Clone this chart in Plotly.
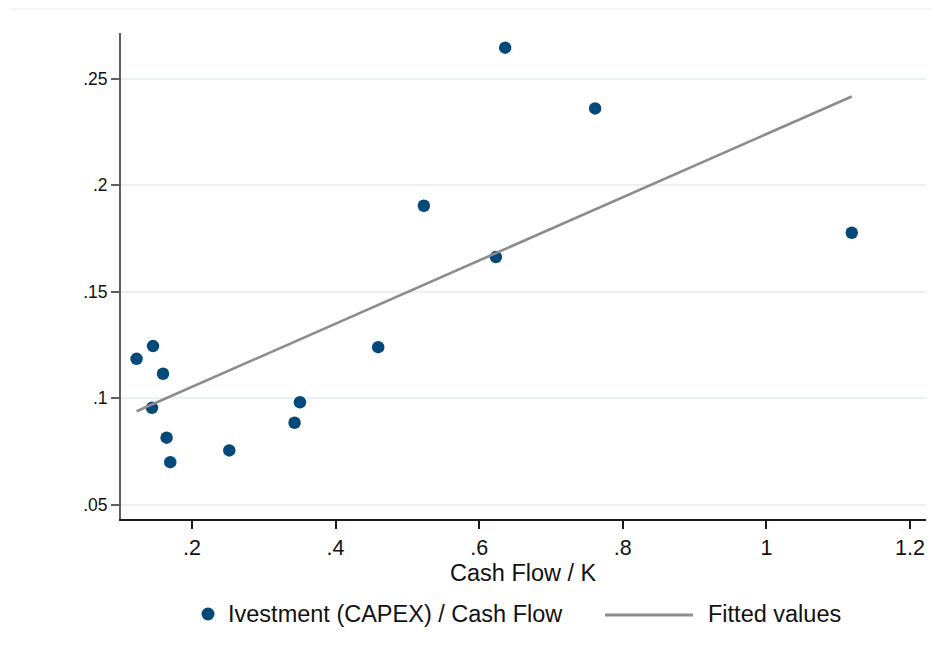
import plotly.graph_objects as go

# Data
cash_flow_k = [0.1229, 0.1458, 0.1597, 0.1444, 0.1647, 0.1698, 0.2520, 0.3429,
               0.3504, 0.4594, 0.5230, 0.6233, 0.6362, 0.7615, 1.1189]
invest_cf = [0.1185, 0.1245, 0.1115, 0.0955, 0.0815, 0.0700, 0.0755, 0.0885,
             0.0981, 0.1240, 0.1904, 0.1663, 0.2646, 0.2361, 0.1777]
fit_x = [0.1229, 1.1189]
fit_y = [0.0939, 0.2417]

x_tickvals = [0.2, 0.4, 0.6, 0.8, 1.0, 1.2]
x_ticktext = [".2", ".4", ".6", ".8", "1", "1.2"]
y_tickvals = [0.05, 0.10, 0.15, 0.20, 0.25]
y_ticktext = [".05", ".1", ".15", ".2", ".25"]

series_name = "Ivestment (CAPEX) / Cash Flow"
fit_name = "Fitted values"
x_title = "Cash Flow / K"

FONT = "Liberation Sans, Arial, Helvetica, sans-serif"
NAVY = "#034a7a"
GRAY = "#8c8c8c"

fig = go.Figure()
fig.add_trace(go.Scatter(x=cash_flow_k, y=invest_cf, mode="markers", name=series_name,
                         marker=dict(size=12.5, color=NAVY, line=dict(width=0)),
                         showlegend=False))
fig.add_trace(go.Scatter(x=fit_x, y=fit_y, mode="lines", name=fit_name,
                         line=dict(color=GRAY, width=2.6), showlegend=False))

OFF = 8  # page body margin
W, H = 940 - OFF, 659 - OFF
L, R, T, B = 121 - OFF, 14, 33 - OFF, 140
pw, ph = W - L - R, H - T - B

def px(x):
    return (x - OFF - L) / pw

def py(y):
    return (H - B - (y - OFF)) / ph

fig.update_layout(
    width=W, height=H,
    margin=dict(l=L, r=R, t=T, b=B),
    paper_bgcolor="white", plot_bgcolor="white",
    font=dict(family=FONT, color="#111111"),
    xaxis=dict(range=[0.1012, 1.2223], tickvals=x_tickvals, ticktext=x_ticktext,
               showgrid=False, zeroline=False, showline=True, linecolor="#1a1a1a",
               linewidth=1.5, ticks="outside", ticklen=8, tickwidth=1.5,
               tickcolor="#1a1a1a", tickfont=dict(size=21.5, family=FONT, color="#111"),
               automargin=False),
    yaxis=dict(range=[0.0433, 0.2715], tickvals=y_tickvals, ticktext=y_ticktext,
               showgrid=True, gridcolor="#eaf1f3", gridwidth=1.5, zeroline=False,
               showline=True, linecolor="#5e5e5e", linewidth=2, ticks="outside",
               ticklen=8, tickwidth=1.5, tickcolor="#5e5e5e",
               tickfont=dict(size=17.5, family=FONT, color="#111"), automargin=False),
)

# x-axis title
fig.add_annotation(xref="paper", yref="paper", x=0.5, y=py(573), text=x_title,
                   showarrow=False, xanchor="center", yanchor="middle",
                   font=dict(size=23.5, family=FONT, color="#111"))

# top border line of graph region
fig.add_shape(type="line", xref="paper", yref="paper", x0=px(11), x1=px(940),
              y0=py(9), y1=py(9), line=dict(color="#e6eaec", width=1))

# manual legend
ly = py(614)
fig.add_shape(type="circle", xref="paper", yref="paper",
              x0=px(201.5), x1=px(214.5), y0=py(620.5), y1=py(607.5),
              fillcolor=NAVY, line=dict(width=0))
fig.add_annotation(xref="paper", yref="paper", x=px(226), y=ly, text=series_name,
                   showarrow=False, xanchor="left", yanchor="middle",
                   font=dict(size=23.5, family=FONT, color="#111"))
fig.add_shape(type="line", xref="paper", yref="paper", x0=px(605), x1=px(693),
              y0=py(615), y1=py(615), line=dict(color=GRAY, width=3))
fig.add_annotation(xref="paper", yref="paper", x=px(706), y=ly, text=fit_name,
                   showarrow=False, xanchor="left", yanchor="middle",
                   font=dict(size=23.5, family=FONT, color="#111"))

fig.write_html("out.html")
